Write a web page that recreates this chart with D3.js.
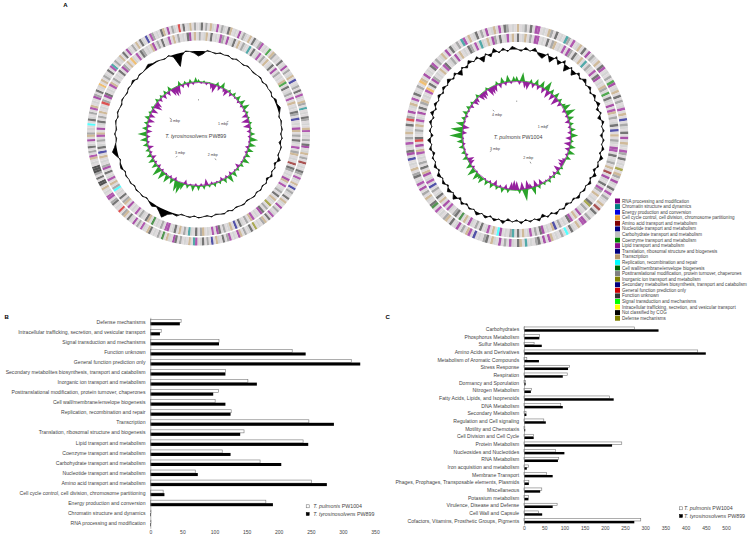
<!DOCTYPE html>
<html>
<head>
<meta charset="utf-8">
<script src="https://d3js.org/d3.v7.min.js"></script>
<style>
  html, body { margin: 0; padding: 0; background: #fff; }
  svg { display: block; }
  text { font-family: "Liberation Sans", Arial, sans-serif; fill: #444; }
</style>
</head>
<body>
<svg id="figure" width="750" height="538"></svg>
<script>
// panel B
const cogCategories = ["Defense mechanisms", "Intracellular trafficking, secretion, and vesicular transport", "Signal transduction and mechanisms", "Function unknown", "General function prediction only", "Secondary metabolites biosynthesis, transport and catabolism", "Inorganic ion transport and metabolism", "Posttranslational modification, protein turnover, chaperones", "Cell wall/membrane/envelope biogenesis", "Replication, recombination and repair", "Transcription", "Translation, ribosomal structure and biogenesis", "Lipid transport and metabolism", "Coenzyme transport and metabolism", "Carbohydrate transport and metabolism", "Nucleotide transport and metabolism", "Amino acid transport and metabolism", "Cell cycle control, cell division, chromosome partitioning", "Energy production and conversion", "Chromatin structure and dynamics", "RNA processing and modification"];
const cogPulmonis = [48, 17, 107, 221, 313, 117, 152, 106, 101, 126, 247, 146, 238, 112, 171, 70, 251, 20, 180, 1, 1];
const cogTyrosino = [46, 15, 107, 242, 327, 117, 166, 98, 117, 125, 286, 140, 246, 125, 204, 74, 275, 22, 191, 1, 1];
const cogTicks = [0, 50, 100, 150, 200, 250, 300, 350];

// panel C
const seedCategories = ["Carbohydrates", "Phosphorus Metabolism", "Sulfur Metabolism", "Amino Acids and Derivatives", "Metabolism of Aromatic Compounds", "Stress Response", "Respiration", "Dormancy and Sporulation", "Nitrogen Metabolism", "Fatty Acids, Lipids, and Isoprenoids", "DNA Metabolism", "Secondary Metabolism", "Regulation and Cell signaling", "Motility and Chemotaxis", "Cell Division and Cell Cycle", "Protein Metabolism", "Nucleosides and Nucleotides", "RNA Metabolism", "Iron acquisition and metabolism", "Membrane Transport", "Phages, Prophages, Transposable elements, Plasmids", "Miscellaneous", "Potassium metabolism", "Virulence, Disease and Defense", "Cell Wall and Capsule", "Cofactors, Vitamins, Prosthetic Groups, Pigments"];
const seedPulmonis = [273, 38, 25, 430, 7, 113, 107, 4, 19, 212, 91, 5, 49, 2, 24, 242, 78, 86, 11, 56, 12, 44, 11, 82, 36, 289];
const seedTyrosino = [333, 38, 44, 450, 37, 109, 96, 4, 17, 222, 96, 6, 54, 3, 24, 218, 100, 84, 7, 71, 12, 40, 11, 71, 45, 273];
const seedTicks = [0, 50, 100, 150, 200, 250, 300, 350, 400, 450, 500];

// legend of panel A, one letter per class for the gene rings below
const cogLegend = ["RNA processing and modification", "Chromatin structure and dynamics", "Energy production and conversion", "Cell cycle control, cell division, chromosome partitioning", "Amino acid transport and metabolism", "Nucleotide transport and metabolism", "Carbohydrate transport and metabolism", "Coenzyme transport and metabolism", "Lipid transport and metabolism", "Translation, ribosomal structure and biogenesis", "Transcription", "Replication, recombination and repair", "Cell wall/membrane/envelope biogenesis", "Posttranslational modification, protein turnover, chaperones", "Inorganic ion transport and metabolism", "Secondary metabolites biosynthesis, transport and catabolism", "General function prediction only", "Function unknown", "Signal transduction and mechanisms", "Intracellular trafficking, secretion, and vesicular transport", "Not classified by COG", "Defense mechanisms"];
const cogCodes = "abcdefghijklmnopqrstuv";
const cogColors = ["#800080", "#008080", "#0000e0", "#e8a030", "#800000", "#000080", "#c0c0c0", "#008000", "#8b0a8b", "#00007f", "#b8996a", "#00ffff", "#006400", "#808080", "#808000", "#000080", "#cc0000", "#333333", "#00ff00", "#ffff00", "#000000", "#808000"];

// gene rings, clockwise from the top, read roughly off the stripes ("." = no gene)
const tyroRingOuter = "gr.n.kg.i.ng.rk.g.a.ng.k.rg.ni.g.h.kn.g.r.ga.n.gk.f.gn.r.ig.kn.b.g.rn.g.ki.g.n.ra.gk.n.e.g.rn.ig.k.p.ng.r.kg.a.n.gi.r.kn.g.o.rg.n.ka.g.in.r.gk.j.n.rg.ib.k.g.n.ra.gk.m.n.g.rk.gi.n.a.gr.kn.q.g.rn.ai.g.k.uu.r.nuuu.g.ki.n.rg.a.kn.g.l.rg.n.ik.g.an.r.gd.k.ng.r.ib.n.gk.r.ag.n.k.rg.f.in.g.rk.a.ng.q.r.gk.n.";
const tyroRingInner = "n.gk.r.g.in.a.gr.k.ng.b.r.gi.n.k.gr.a.n.g.kh.r.gn.i.k.g.rn.f.g.ak.n.rg.i.nk.g.e.rn.g.ak.i.gn.r.kg.o.n.ra.g.ik.n.gr.j.kg.n.ra.i.g.kn.r.gb.n.k.rg.ai.n.g.m.kr.gn.i.g.a.kn.r.g.ln.k.ig.r.an.g.k.p.rg.n.ik.a.gr.n.k.g.qn.ar.g.ik.n.g.r.an.k.dg.i.rn.g.ka.n.r.gi.k.n.g.ra.k.";
const pulmRingOuter = "k.gn.r.ai.g.kn.r.g.bn.i.gk.r.a.ng.k.ri.g.n.ha.gk.r.n.gi.k.f.ng.r.a.kg.in.r.g.o.kn.ag.r.i.ng.k.e.rg.n.ai.k.gr.l.n.g.ki.a.rn.g.b.kr.gi.n.a.gk.rn.g.j.ik.n.ag.r.kn.g.i.mr.gk.n.a.ig.rn.k.g.p.ar.gi.n.kg.r.qn.a.gk.i.rg.n.dk.a.g.ri.n.gk.a.rg.n.bi.k.gr.n.a.gk.i.rn.g.";
const pulmRingInner = "r.gk.n.ai.g.r.nk.g.i.an.rg.k.b.ng.i.ra.g.kn.h.rg.a.ik.n.gr.f.k.ng.ai.r.gn.k.e.ag.r.in.k.g.ro.n.ga.k.ir.g.n.jk.g.ar.n.ig.k.r.bn.g.al.k.ig.r.n.ga.k.m.rn.gi.a.k.rg.n.p.ig.ak.r.n.g.ik.a.qr.gn.k.ig.a.r.nk.g.id.r.an.g.k.ir.gn.a.k.g.rn.i.bg.k.an.r.gi.k.";

// GC content, px-like offset from the ring line, 120 samples clockwise (3 deg apart)
const tyroGc = [-5, -3, 1, 0, -1, 1, 0, 1, -1, 1, 0, -1, 1, 0, -1, 0, 1, -1, 1, 0, 1, -1, 2, 1, 3, 1, -1, 1, 0, 1, -1, 1, -2, 1, 0, -1, 3, -2, 1, -1, 2, -2, 1, -1, 1, -1, 1, 0, -1, 1, 0, -1, 1, -1, 1, 0, -1, 1, -1, 0, 1, -1, 1, 0, -1, 2, 1, 3, 8, 4, 1, 3, 1, -1, 1, 0, 1, -1, 1, 0, 1, -1, 2, 1, -1, 2, 5, 2, 0, -1, 1, -1, 0, 1, -1, 1, 0, -1, 1, 0, -1, 1, 0, 2, -1, 1, 0, 1, 3, 1, 1, 0, -1, 1, -2, -13, -3, 1, 0, -2];
const pulmGc = [1, -2, 3, -1, 4, -3, -6, 2, -7, 3, -5, 4, -8, 2, -6, 3, -2, 4, -1, 3, -2, 3, -1, 4, -3, 2, -4, 3, -1, 2, -3, 2, -1, 3, -2, 4, -1, 2, -3, 4, -2, 3, -1, 2, -1, 3, -2, 1, -3, 2, -1, 3, -2, 2, -4, 3, -1, 2, -2, 3, -2, 1, -3, 4, -1, 3, -2, 3, -1, 4, -1, 2, -2, 3, -3, 5, -1, 4, -2, 3, -1, 4, -2, 3, -1, 2, -3, 3, -1, 4, -3, 2, -1, 3, -2, 4, -2, 3, -1, 3, -2, 3, -1, 4, -2, 3, -6, 2, -3, 4, -1, 3, -7, 2, -4, 5, -2, 3, -2, 4];

// GC skew, same sampling: plus is drawn green and outward, minus purple and inward
const tyroSkew = [3, -2, 2, -3, 1, -6, -9, 4, -5, 6, -4, -7, 3, -4, 4, -2, 5, -3, 6, -3, 7, -3, 3, -6, 2, -8, 3, -7, 2, -4, 5, -3, 8, -2, 7, -4, 6, -3, 5, -2, 7, -2, 4, -5, 3, -2, 6, -4, 8, -3, 5, -4, 3, -2, 4, -3, 3, -7, 4, -3, 5, -3, 6, -2, 4, -5, 7, 12, 11, -4, 6, -3, 8, -2, 9, -3, 10, -4, 6, -3, 6, -5, 5, -3, 4, -6, 5, -3, 7, -4, 9, -6, 5, -5, 4, -7, 5, -6, 3, -7, 3, -9, -7, 4, -4, 3, -5, 4, -5, 5, -8, -10, -9, 5, -4, 3, -5, 4, -3, 5];
const pulmSkew = [5, -4, 9, -7, -8, 4, -5, 6, -5, 7, -6, 10, -8, 5, -7, 6, -9, 4, -5, 4, 8, -4, 10, -3, 6, -5, 4, -3, 5, -4, 7, -6, 3, -7, 6, -5, 7, -3, 5, -4, -7, -5, 3, -7, 5, -4, 3, -3, 4, -2, 3, -6, 4, -7, 8, -5, -9, 12, -8, 4, -9, -10, -8, 4, -5, 5, -3, 4, -6, 5, -3, 5, -2, 7, 4, 8, -2, 9, -3, 6, -6, -7, 5, -3, 4, -2, 5, -3, 6, -2, 13, -5, 12, -7, 8, -2, 4, -3, 5, -2, 4, -4, 3, -6, -5, 4, -7, -8, -6, 3, -9, -8, -7, 4, -5, 6, -4, 7, -3, 5];

const mbpLabels = ["1 mbp", "2 mbp", "3 mbp", "4 mbp"];

const svg = d3.select("#figure");
const cogColor = d3.scaleOrdinal().domain(cogCodes.split("")).range(cogColors);
const rad = d => d * Math.PI / 180;

function drawGeneRing(g, codes, r0, r1) {
    const stripes = codes.split("");
    const angle = d3.scaleLinear().domain([0, stripes.length]).range([0, 2 * Math.PI]);
    const arc = d3.arc().innerRadius(r0).outerRadius(r1);
    g.append("g").selectAll("path")
        .data(stripes)
        .enter()
        .append("path")
        .attr("d", (d, i) => arc({startAngle: angle(i), endAngle: angle(i + 1)}))
        .attr("fill", d => d === "." ? "#dedadc" : cogColor(d))
        .attr("fill-opacity", d => d === "." ? 1 : 0.68);
}

function drawGenome(opts) {
    const g = svg.append("g").attr("transform", `translate(${opts.cx},${opts.cy})`);
    const angle = d3.scaleLinear().domain([0, 120]).range([0, 2 * Math.PI]);

    drawGeneRing(g, opts.outer, 103.5, 111.5);
    drawGeneRing(g, opts.inner, 93.5, 102);

    // GC content
    const gcR = d3.scaleLinear().domain([0, 10]).range([opts.gcRadius, opts.gcRadius + opts.gcGain]);
    const gcLine = d3.lineRadial().angle((d, i) => angle(i)).radius(d => gcR(d)).curve(d3.curveLinearClosed);
    const gcArea = d3.areaRadial().angle((d, i) => angle(i)).innerRadius(gcR(0)).outerRadius(d => gcR(d)).curve(d3.curveLinearClosed);
    g.append("path").attr("d", gcArea(opts.gc)).attr("fill", "#000");
    g.append("path").attr("d", gcLine(opts.gc)).attr("fill", "none").attr("stroke", "#000").attr("stroke-width", 0.8);

    // GC skew, one thin spike per sample
    const skewR = d3.scaleLinear().domain([0, 10]).range([opts.skewRadius, opts.skewRadius + 10]);
    const spike = d3.lineRadial().angle(d => d[0]).radius(d => d[1]);
    g.append("g").selectAll("path")
        .data(opts.skew)
        .enter()
        .append("path")
        .attr("d", (v, i) => {
            const w = rad(1.4 + Math.abs(v) * 0.16);
            return spike([[angle(i) - w, skewR(0)], [angle(i), skewR(v)], [angle(i) + w, skewR(0)]]);
        })
        .attr("fill", v => v > 0 ? "#2aa32a" : "#96209e");
    g.append("circle").attr("r", opts.skewRadius + 0.5).attr("fill", "none").attr("stroke", "#2aa32a").attr("stroke-width", 0.8);
    g.append("circle").attr("r", opts.skewRadius - 0.5).attr("fill", "none").attr("stroke", "#96209e").attr("stroke-width", 0.8);

    // size labels and their little ticks
    mbpLabels.forEach((label, i) => {
        const a = rad(opts.mbp[i][0]);
        const r = opts.mbp[i][1];
        g.append("text")
            .attr("x", r * Math.sin(a))
            .attr("y", -r * Math.cos(a))
            .attr("text-anchor", "middle")
            .attr("dy", "0.35em")
            .attr("font-size", 3.6)
            .text(label);
        g.append("line")
            .attr("x1", (r + 4) * Math.sin(a))
            .attr("y1", -(r + 4) * Math.cos(a))
            .attr("x2", (r + 6) * Math.sin(a))
            .attr("y2", -(r + 6) * Math.cos(a))
            .attr("stroke", "#333")
            .attr("stroke-width", 0.5);
    });
    g.append("line").attr("x1", 0).attr("x2", 0).attr("y1", -35).attr("y2", -33.5).attr("stroke", "#555").attr("stroke-width", 0.5);

    g.append("text")
        .attr("x", opts.nameDx)
        .attr("y", 1.7)
        .attr("text-anchor", "middle")
        .attr("dy", "0.35em")
        .attr("font-size", opts.nameSize)
        .call(t => t.append("tspan").attr("font-style", "italic").text(opts.species))
        .call(t => t.append("tspan").text(" " + opts.strain));
}

drawGenome({cx: 198.5, cy: 134, outer: tyroRingOuter, inner: tyroRingInner, gc: tyroGc, skew: tyroSkew,
    gcRadius: 83, gcGain: 10, skewRadius: 52, mbp: [[67, 26.5], [146, 25.5], [224, 26.5], [299, 27]],
    species: "T. tyrosinosolvens", strain: "PW899", nameDx: -2.8, nameSize: 5.3});
drawGenome({cx: 516.7, cy: 135.5, outer: pulmRingOuter, inner: pulmRingInner, gc: pulmGc, skew: pulmSkew,
    gcRadius: 86, gcGain: 8, skewRadius: 54.5, mbp: [[72, 27.3], [153, 25.4], [239, 25.3], [317, 29]],
    species: "T. pulmonis", strain: "PW1004", nameDx: 1.3, nameSize: 5.3});

// colour legend of panel A
const legendY = d3.scaleBand().domain(cogLegend).range([198.2, 321]);
const legend = svg.append("g");
legend.selectAll("rect")
    .data(cogLegend)
    .enter()
    .append("rect")
    .attr("x", 615)
    .attr("y", d => legendY(d) + 0.3)
    .attr("width", 5)
    .attr("height", 5)
    .attr("fill", (d, i) => cogColors[i]);
legend.selectAll("text")
    .data(cogLegend)
    .enter()
    .append("text")
    .attr("x", 622)
    .attr("y", d => legendY(d) + legendY.bandwidth() / 2)
    .attr("dy", "0.35em")
    .attr("font-size", 4.55)
    .text(d => d);

function drawBars(opts) {
    const x = d3.scaleLinear().domain([0, opts.max]).range([opts.x0, opts.x1]);
    const y = d3.scaleBand().domain(opts.categories).range([opts.y0, opts.y1]).padding(opts.padding).paddingOuter(opts.padding / 2);
    const group = svg.append("g");

    group.selectAll("rect.pulmonis")
        .data(opts.categories)
        .enter()
        .append("rect")
        .attr("class", "pulmonis")
        .attr("x", x(0))
        .attr("y", d => y(d))
        .attr("width", (d, i) => x(opts.white[i]) - x(0))
        .attr("height", y.bandwidth() / 2)
        .attr("fill", "#fff")
        .attr("stroke", "#777")
        .attr("stroke-width", 0.6);
    group.selectAll("rect.tyrosino")
        .data(opts.categories)
        .enter()
        .append("rect")
        .attr("class", "tyrosino")
        .attr("x", x(0))
        .attr("y", d => y(d) + y.bandwidth() / 2)
        .attr("width", (d, i) => x(opts.black[i]) - x(0))
        .attr("height", y.bandwidth() / 2)
        .attr("fill", "#000");

    const yAxis = group.append("g")
        .attr("transform", `translate(${x(0)},0)`)
        .call(d3.axisLeft(y).tickSize(0).tickPadding(4.8));
    yAxis.select(".domain").attr("stroke", "#888").attr("stroke-width", 0.6);
    yAxis.selectAll("text").attr("font-size", opts.labelSize).attr("font-family", null);

    const xAxis = group.append("g")
        .attr("transform", `translate(0,${opts.y1})`)
        .call(d3.axisBottom(x).tickValues(opts.ticks).tickSize(0).tickPadding(2));
    xAxis.select(".domain").remove();
    xAxis.selectAll("text").attr("font-size", 5).attr("font-family", null);
}

drawBars({categories: cogCategories, white: cogPulmonis, black: cogTyrosino, ticks: cogTicks, max: 350,
    x0: 150.3, x1: 375, y0: 317.3, y1: 528.3, padding: 0.4, labelSize: 5.1});
drawBars({categories: seedCategories, white: seedPulmonis, black: seedTyrosino, ticks: seedTicks, max: 500,
    x0: 524, x1: 726, y0: 325.5, y1: 524.8, padding: 0.38, labelSize: 5.1});

function drawBarLegend(xBox, xText, yTop, yBottom) {
    const entries = [["T. pulmonis", "PW1004", "#fff"], ["T. tyrosinosolvens", "PW899", "#000"]];
    const ly = d3.scalePoint().domain(entries.map(e => e[0])).range([yTop, yBottom]);
    entries.forEach(e => {
        svg.append("rect").attr("x", xBox - 1.5).attr("y", ly(e[0]) - 1.5).attr("width", 3).attr("height", 3)
            .attr("fill", e[2]).attr("stroke", e[2] === "#fff" ? "#666" : "#000").attr("stroke-width", 0.5);
        svg.append("text").attr("x", xText).attr("y", ly(e[0])).attr("dy", "0.35em").attr("font-size", 5.3)
            .call(t => t.append("tspan").attr("font-style", "italic").text(e[0]))
            .call(t => t.append("tspan").text(" " + e[1]));
    });
}
drawBarLegend(307.7, 313.3, 506.3, 514);
drawBarLegend(681, 684, 508.3, 516);

// panel letters
const panelLetters = ["A", "B", "C"];
const panelX = d3.scaleOrdinal().domain(panelLetters).range([65.3, 6.7, 387.7]);
const panelY = d3.scaleOrdinal().domain(panelLetters).range([5.3, 317, 317]);
svg.selectAll("text.panel")
    .data(panelLetters)
    .enter()
    .append("text")
    .attr("class", "panel")
    .attr("x", d => panelX(d))
    .attr("y", d => panelY(d))
    .attr("text-anchor", "middle")
    .attr("dy", "0.35em")
    .attr("font-size", 6)
    .attr("font-weight", "bold")
    .style("fill", "#000")
    .text(d => d);
</script>
</body>
</html>
